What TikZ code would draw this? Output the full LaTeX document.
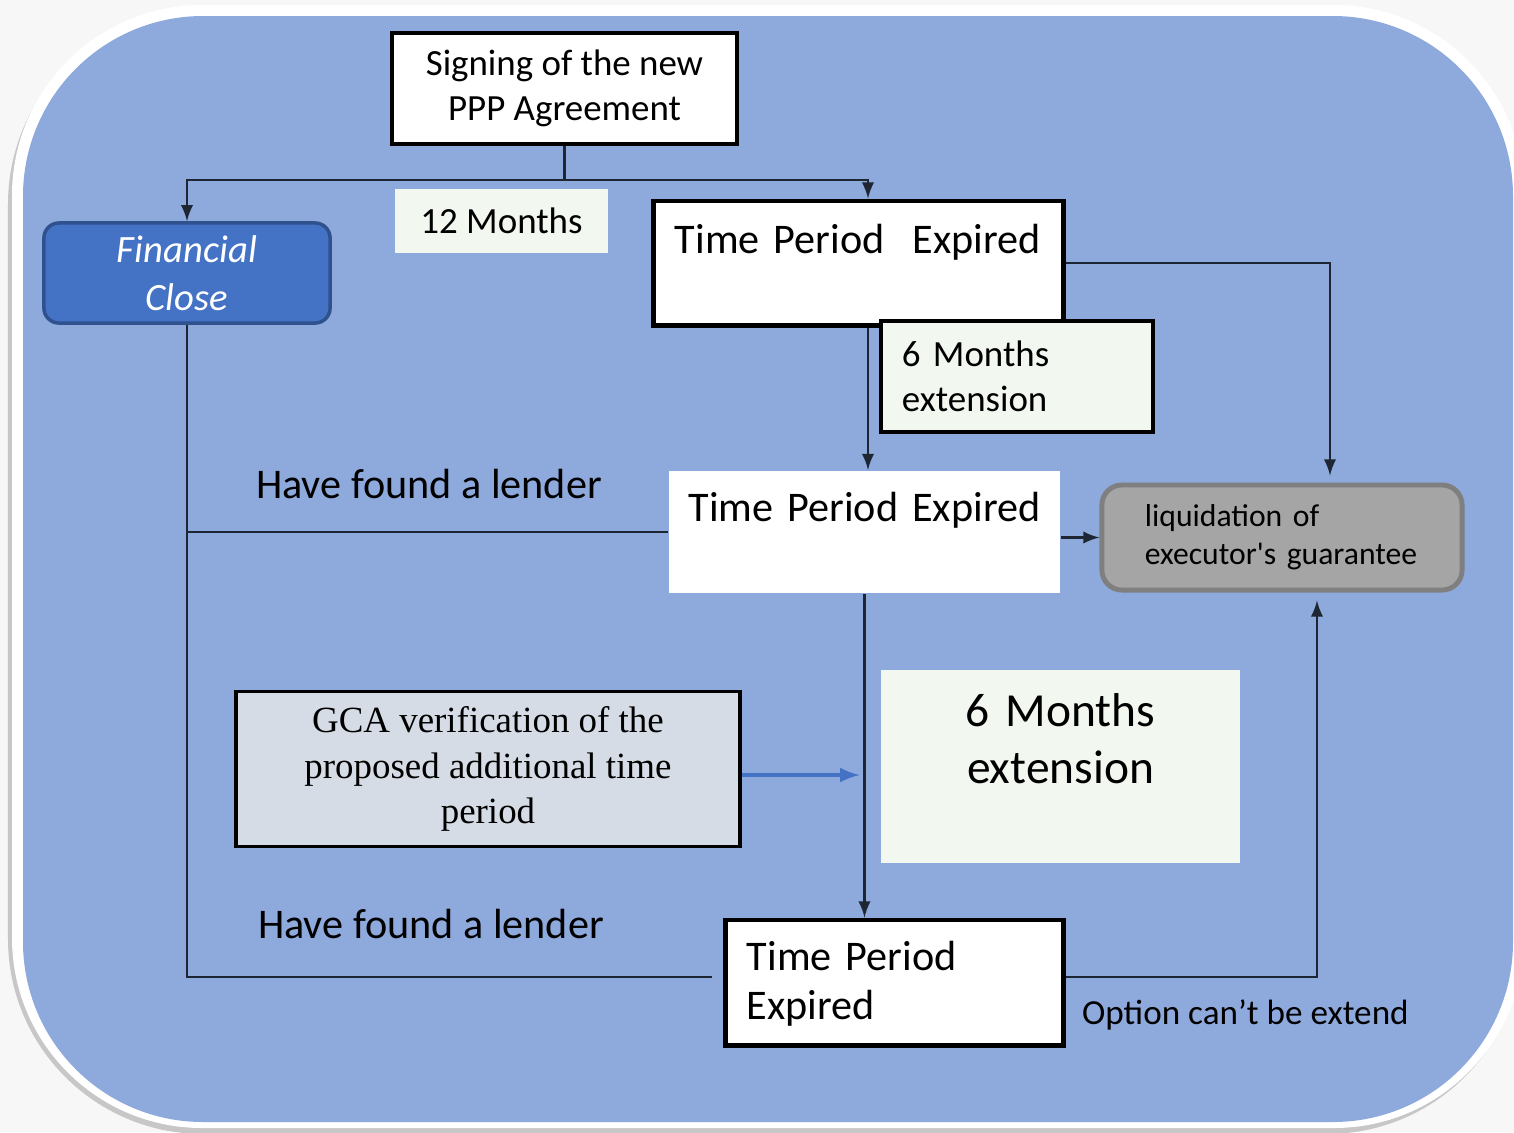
\documentclass[tikz,border=0pt]{standalone}
\usepackage{fontspec}
\setmainfont{Carlito}
\newfontfamily\gcafont{Liberation Serif}
\usepackage{tikz}
\usetikzlibrary{calc}
\usetikzlibrary{positioning}
\usetikzlibrary{arrows}
\usetikzlibrary{arrows.meta}
\tikzset{every picture/.style={semithick, >=latex}}
\definecolor{panelBlue}{HTML}{8EA9DB}
\definecolor{closeBlue}{HTML}{4472C4}
\definecolor{closeEdge}{HTML}{2F528F}
\definecolor{paleGreen}{HTML}{F2F7EF}
\definecolor{gcaGrey}{HTML}{D6DCE5}
\definecolor{liqGrey}{HTML}{A5A5A5}
\definecolor{liqEdge}{HTML}{7F7F7F}
\definecolor{wireDark}{HTML}{1E2533}
\tikzset{
	stagebox/.style={draw=black, line width=1.2pt, fill=white, inner sep=0pt},
	notebox/.style={fill=paleGreen, inner sep=0pt},
	wire/.style={draw=wireDark, semithick},
	txtS/.style={font=\fontsize{9}{10.8}\selectfont},
	txtM/.style={font=\fontsize{10.5}{12.8}\selectfont},
	txtL/.style={font=\fontsize{12}{14.2}\selectfont},
	txtXL/.style={font=\fontsize{13.5}{16.2}\selectfont},
}

\begin{document}
\begin{tikzpicture}[x=0.01cm, y=-0.01cm]
		\def\rPanel{1.8cm}
		\def\dXarrow{9.5}
		\def\dYbottom{5.5}

		\useasboundingbox (0,0) rectangle (1514,1132);
		\fill[black!3] (0,0) rectangle (1514,1132);
		\fill[black!22, rounded corners=1.95cm] (8,9) rectangle (1522,1134);
		\fill[white, rounded corners=1.9cm] (12,5) rectangle (1524,1128);
		\fill[panelBlue, rounded corners=\rPanel] (23,16) rectangle (1513,1122);

		\node[stagebox, line width=1pt, txtM, minimum width=3.45cm, minimum height=1.11cm, align=center] (sign) at (564.5,88.5) {Signing of the new\\PPP Agreement};

		\node[draw=closeEdge, line width=1pt, fill=closeBlue, rounded corners=0.15cm, text=white, minimum width=2.86cm, minimum height=1.0cm, align=center, font=\fontsize{11}{13.7}\selectfont\itshape] (fin) at (187,273) {Financial\\Close};

		\node[notebox, txtM, minimum width=2.13cm, minimum height=0.64cm] (twelve) at (501.5,221) {12 Months};

		\node[stagebox, line width=1.4pt, txtL, text width=3.67cm, inner xsep=0.21cm, text height=0.52cm, text depth=0.72cm, align=left] (tpe1) at (858.5,263) {Time Period\ \ Expired};

		\node[notebox, draw=black, line width=1pt, txtM, text width=2.30cm, inner xsep=0.21cm, minimum height=1.11cm, align=left] (ext1) at (1017,376.5) {6 Months\\extension};

		\node[fill=white, inner sep=0pt, txtL, text width=3.91cm, text height=0.50cm, text depth=0.72cm, align=center] (tpe2) at (864.5,532) {Time Period Expired};

		\node[draw=liqEdge, line width=1.4pt, fill=liqGrey, rounded corners=0.2cm, txtS, text width=2.74cm, inner xsep=0.43cm, minimum height=1.05cm, align=left] (liq) at (1282,537.5) {liquidation of\\executor\textquotesingle s guarantee};

		\node[draw=black, line width=1pt, fill=gcaGrey, inner sep=0pt, minimum width=5.04cm, minimum height=1.55cm, align=center, font=\gcafont\fontsize{10.5}{12.9}\selectfont] (gca) at (488,769) {GCA verification of the\\proposed additional time\\period};

		\node[notebox, txtXL, text width=3.59cm, text height=0.57cm, text depth=1.36cm, align=center] (ext2) at (1060.5,766.5) {6 Months\\extension};

		\node[stagebox, line width=1.4pt, txtL, text width=2.95cm, inner xsep=0.21cm, text height=0.50cm, text depth=0.75cm, align=left] (tpe3) at (894.5,982.5) {Time Period\\Expired};

		\node[txtL, anchor=base west, inner sep=0pt] (lender1) at (255,498) {Have found a lender};
		\node[txtL, anchor=base west, inner sep=0pt] (lender2) at (257,938) {Have found a lender};
		\node[font=\fontsize{10}{12}\selectfont, anchor=base west, inner sep=0pt] (noext) at (1081,1024) {Option can’t be extend};

		\coordinate (split) at ($(sign.south)+(0,34)$);

		\draw[wire] (sign.south) -- (split);
		\draw[wire, ->] (split) -| (fin.north);
		\draw[wire, ->] (split) -| ($(tpe1.north)+(\dXarrow,0)$);
		\draw[wire, ->] ($(tpe1.south)+(\dXarrow,0)$) -- ($(tpe2.north)+(3.5,0)$);
		\draw[wire, ->] (tpe1.east) -| ($(liq.north)+(48,-7)$);
		\draw[wire, ->] (tpe2.east |- liq.west) -- (liq.west);
		\draw[wire, ->] (tpe2.south) -- (tpe2.south |- tpe3.north);
		\draw[wire] (fin.south) |- ($(tpe3.west)+(-11,-\dYbottom)$);
		\draw[wire] (fin.south |- tpe2.west) -- (tpe2.west);
		\draw[wire, ->] ($(tpe3.east)+(0,-\dYbottom)$) -| ($(liq.south)+(35,8)$);
		\draw[closeBlue, ->, line width=0.9pt] ($(gca.east)+(0,6)$) -- ($(gca.east -| tpe2.south)+(-5,6)$);

\end{tikzpicture}
\end{document}
